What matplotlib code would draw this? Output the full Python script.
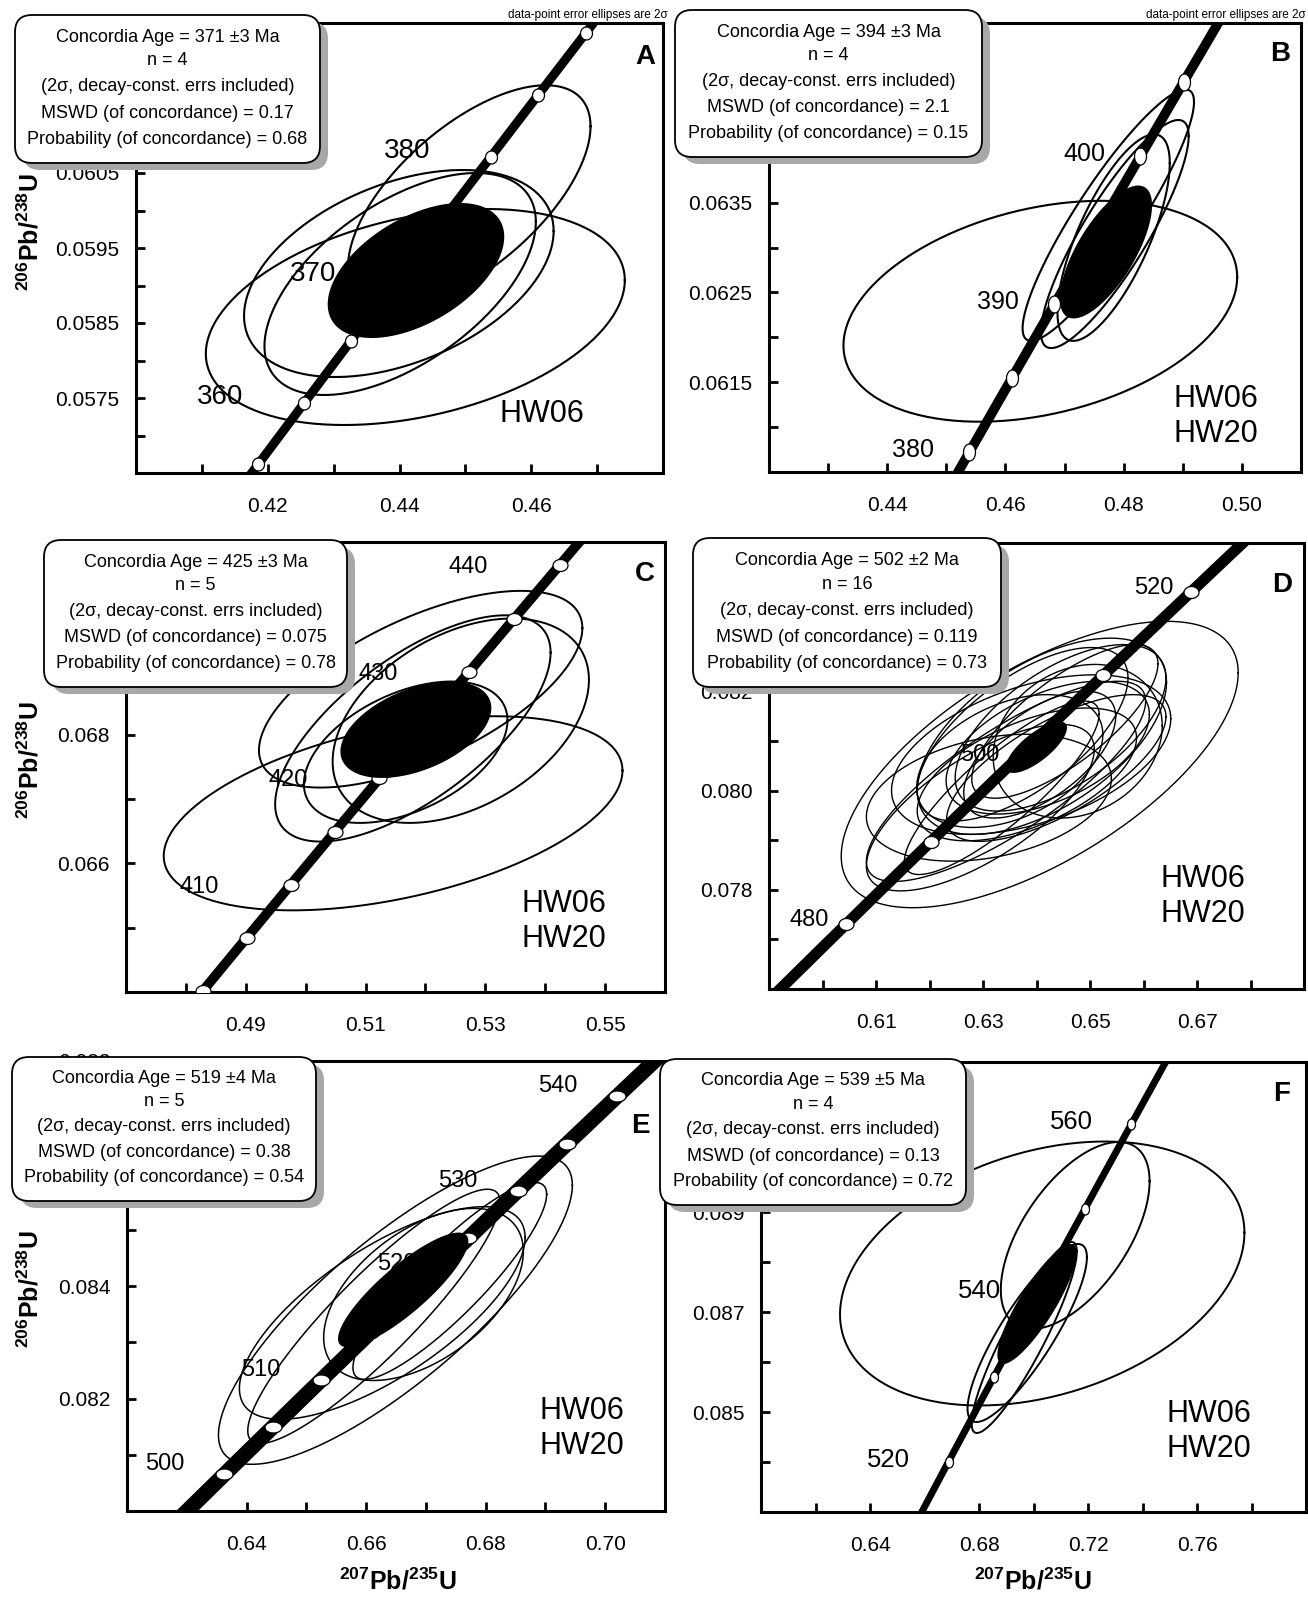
import numpy as np
import matplotlib
matplotlib.use("Agg")
import matplotlib.pyplot as plt
from matplotlib.patches import FancyBboxPatch
from matplotlib.path import Path
from matplotlib.ticker import FixedLocator, FixedFormatter, MultipleLocator

plt.rcParams['font.family'] = ['Liberation Sans', 'DejaVu Sans']
plt.rcParams['mathtext.fontset'] = 'custom'
plt.rcParams['mathtext.rm'] = 'Liberation Sans'
plt.rcParams['mathtext.bf'] = 'Liberation Sans:bold'

# decay constants (per Ma)
L238 = 1.55125e-4
L235 = 9.8485e-4

# ---------------- data ----------------
# ellipses: centre x, centre y, half-width, half-height (2 sigma), error correlation
A_cx = [0.4424, 0.4399, 0.4401, 0.4506]
A_cy = [0.05858, 0.05916, 0.05902, 0.06019]
A_sx = [0.0318, 0.0235, 0.0206, 0.0184]
A_sy = [0.00144, 0.00138, 0.00148, 0.00148]
A_rho = [0.34, 0.41, 0.56, 0.63]
A_mean = [0.4425, 0.0592, 0.0134, 0.0009, 0.50]
A_ages = [355, 360, 365, 370, 375, 380, 385, 390]
A_agelab = [360, 370, 380]
A_stats = ['371 ±3', '4', '0.17', '0.68']
A_samples = ['HW06']
A_xlim = [0.40, 0.48]
A_ylim = [0.0565, 0.0625]
A_xticks = [0.42, 0.44, 0.46]
A_xlabels = ['0.42', '0.44', '0.46']
A_yticks = [0.0575, 0.0585, 0.0595, 0.0605, 0.0615]
A_ylabels = ['0.0575', '0.0585', '0.0595', '0.0605', '']

B_cx = [0.4659, 0.4774, 0.4785, 0.4783]
B_cy = [0.06229, 0.06336, 0.06315, 0.06311]
B_sx = [0.0333, 0.0145, 0.0125, 0.0095]
B_sy = [0.00123, 0.00140, 0.00127, 0.00115]
B_rho = [0.31, 0.90, 0.86, 0.72]
B_mean = [0.4770, 0.06295, 0.0078, 0.00074, 0.70]
B_ages = [375, 380, 385, 390, 395, 400, 405, 410]
B_agelab = [380, 390, 400]
B_stats = ['394 ±3', '4', '2.1', '0.15']
B_samples = ['HW06', 'HW20']
B_xlim = [0.42, 0.51]
B_ylim = [0.0605, 0.0655]
B_xticks = [0.44, 0.46, 0.48, 0.50]
B_xlabels = ['0.44', '0.46', '0.48', '0.50']
B_yticks = [0.0615, 0.0625, 0.0635, 0.0645]
B_ylabels = ['0.0615', '0.0625', '0.0635', '']

C_cx = [0.5146, 0.5192, 0.5259, 0.5179, 0.5167]
C_cy = [0.06678, 0.06871, 0.06822, 0.06810, 0.06773]
C_sx = [0.0383, 0.0270, 0.0214, 0.0230, 0.0170]
C_sy = [0.00151, 0.00153, 0.00159, 0.00176, 0.00110]
C_rho = [0.44, 0.62, 0.40, 0.67, 0.45]
C_mean = [0.5184, 0.06808, 0.0126, 0.00075, 0.45]
C_ages = [400, 405, 410, 415, 420, 425, 430, 435, 440, 445]
C_agelab = [410, 420, 430, 440]
C_stats = ['425 ±3', '5', '0.075', '0.78']
C_samples = ['HW06', 'HW20']
C_xlim = [0.47, 0.56]
C_ylim = [0.064, 0.071]
C_xticks = [0.49, 0.51, 0.53, 0.55]
C_xlabels = ['0.49', '0.51', '0.53', '0.55']
C_yticks = [0.066, 0.068, 0.070]
C_ylabels = ['0.066', '0.068', '']

D_cx = [0.6406, 0.6410, 0.6390, 0.6295, 0.6343, 0.6445, 0.6421, 0.6382,
        0.6453, 0.6350, 0.6406, 0.6311, 0.6477, 0.6374, 0.6437, 0.6335]
D_cy = [0.08053, 0.08110, 0.08073, 0.07966, 0.08019, 0.08127, 0.08087, 0.08033,
        0.08140, 0.08060, 0.08073, 0.07986, 0.08100, 0.08114, 0.08046, 0.08006]
D_sx = [0.0371, 0.0233, 0.0261, 0.0213, 0.0261, 0.0197, 0.0190, 0.0205,
        0.0174, 0.0174, 0.0142, 0.0229, 0.0158, 0.0197, 0.0205, 0.0182]
D_sy = [0.00289, 0.00198, 0.00161, 0.00168, 0.00202, 0.00168, 0.00134, 0.00134,
        0.00155, 0.00134, 0.00128, 0.00128, 0.00155, 0.00175, 0.00148, 0.00175]
D_rho = [0.64, 0.55, 0.45, 0.70, 0.80, 0.60, 0.50, 0.55,
         0.75, 0.40, 0.60, 0.30, 0.20, 0.65, 0.70, 0.85]
D_mean = [0.6400, 0.08088, 0.0057, 0.00052, 0.75]
D_ages = [470, 480, 490, 500, 510, 520, 530]
D_agelab = [480, 500, 520]
D_stats = ['502 ±2', '16', '0.119', '0.73']
D_samples = ['HW06', 'HW20']
D_xlim = [0.59, 0.69]
D_ylim = [0.076, 0.085]
D_xticks = [0.61, 0.63, 0.65, 0.67]
D_xlabels = ['0.61', '0.63', '0.65', '0.67']
D_yticks = [0.078, 0.080, 0.082, 0.084]
D_ylabels = ['0.078', '0.080', '0.082', '']

E_cx = [0.6649, 0.6627, 0.6613, 0.6740, 0.6696]
E_cy = [0.08357, 0.08352, 0.08346, 0.08409, 0.08385]
E_sx = [0.0296, 0.0239, 0.0211, 0.0162, 0.0167]
E_sy = [0.00274, 0.00189, 0.00226, 0.00175, 0.00153]
E_rho = [0.81, 0.71, 0.90, 0.88, 0.50]
E_mean = [0.6662, 0.08393, 0.0109, 0.00102, 0.85]
E_ages = [495, 500, 505, 510, 515, 520, 525, 530, 535, 540, 545]
E_agelab = [500, 510, 520, 530, 540]
E_stats = ['519 ±4', '5', '0.38', '0.54']
E_samples = ['HW06', 'HW20']
E_xlim = [0.62, 0.71]
E_ylim = [0.080, 0.088]
E_xticks = [0.64, 0.66, 0.68, 0.70]
E_xlabels = ['0.64', '0.66', '0.68', '0.70']
E_yticks = [0.082, 0.084, 0.086, 0.088]
E_ylabels = ['0.082', '0.084', '', '0.088']

F_cx = [0.7032, 0.7153, 0.6977, 0.6966]
F_cy = [0.08777, 0.08853, 0.08658, 0.08649]
F_sx = [0.0742, 0.0273, 0.0219, 0.0193]
F_sy = [0.00264, 0.00187, 0.00178, 0.00191]
F_rho = [0.31, 0.58, 0.85, 0.90]
F_mean = [0.7013, 0.08716, 0.01455, 0.0012, 0.85]
F_ages = [510, 520, 530, 540, 550, 560, 570]
F_agelab = [520, 540, 560]
F_stats = ['539 ±5', '4', '0.13', '0.72']
F_samples = ['HW06', 'HW20']
F_xlim = [0.60, 0.80]
F_ylim = [0.083, 0.092]
F_xticks = [0.64, 0.68, 0.72, 0.76]
F_xlabels = ['0.64', '0.68', '0.72', '0.76']
F_yticks = [0.085, 0.087, 0.089, 0.091]
F_ylabels = ['0.085', '0.087', '0.089', '']

# ---------------- layout (pixels, origin top-left) ----------------
W, H = 1308, 1602
fig = plt.figure(figsize=(W / 100, H / 100), dpi=100)
fig.patch.set_facecolor('white')

panels = [
    dict(letter='A', d=(A_cx, A_cy, A_sx, A_sy, A_rho, A_mean, A_ages, A_agelab, A_stats, A_samples,
                        A_xlim, A_ylim, A_xticks, A_xlabels, A_yticks, A_ylabels),
         rect=(136, 23, 663, 473), box=(15, 15, 320, 163), let=(645, 57), samp=(542, 414),
         xminor=0.01, yminor=0.0005, lw=1.5, clw=6.5, mk=(12, 13), off=(-84, 6), afs=20),
    dict(letter='B', d=(B_cx, B_cy, B_sx, B_sy, B_rho, B_mean, B_ages, B_agelab, B_stats, B_samples,
                        B_xlim, B_ylim, B_xticks, B_xlabels, B_yticks, B_ylabels),
         rect=(769, 23, 1301, 472), box=(675, 10, 982, 157), let=(1280, 54), samp=(1216, 399),
         xminor=0.01, yminor=0.0005, lw=1.5, clw=7, mk=(12, 17), off=(-56, 2), afs=18),
    dict(letter='C', d=(C_cx, C_cy, C_sx, C_sy, C_rho, C_mean, C_ages, C_agelab, C_stats, C_samples,
                        C_xlim, C_ylim, C_xticks, C_xlabels, C_yticks, C_ylabels),
         rect=(126, 542, 665, 992), box=(44, 540, 347, 687), let=(645, 574), samp=(564, 904),
         xminor=0.01, yminor=0.001, lw=1.4, clw=7, mk=(15, 12), off=(-91, -2), afs=17),
    dict(letter='D', d=(D_cx, D_cy, D_sx, D_sy, D_rho, D_mean, D_ages, D_agelab, D_stats, D_samples,
                        D_xlim, D_ylim, D_xticks, D_xlabels, D_yticks, D_ylabels),
         rect=(769, 543, 1304, 989), box=(693, 538, 1001, 687), let=(1282, 585), samp=(1203, 879),
         xminor=0.01, yminor=0.001, lw=1.0, clw=8, mk=(15, 12), off=(-37, 4), afs=17),
    dict(letter='E', d=(E_cx, E_cy, E_sx, E_sy, E_rho, E_mean, E_ages, E_agelab, E_stats, E_samples,
                        E_xlim, E_ylim, E_xticks, E_xlabels, E_yticks, E_ylabels),
         rect=(127, 1061, 665, 1511), box=(12, 1057, 316, 1201), let=(640, 1126), samp=(582, 1411),
         xminor=0.01, yminor=0.001, lw=1.1, clw=11, mk=(17, 11), off=(-60, 10), afs=17,
         special={520: (-22, 22)}),
    dict(letter='F', d=(F_cx, F_cy, F_sx, F_sy, F_rho, F_mean, F_ages, F_agelab, F_stats, F_samples,
                        F_xlim, F_ylim, F_xticks, F_xlabels, F_yticks, F_ylabels),
         rect=(761, 1062, 1306, 1512), box=(660, 1059, 966, 1205), let=(1282, 1094), samp=(1209, 1414),
         xminor=0.02, yminor=0.001, lw=1.4, clw=5, mk=(8, 11), off=(-60, 2), afs=18.5),
]


def fx(x):
    return x / W


def fy(y):
    return 1 - y / H


def oval(w, h):
    t = np.linspace(0, 2 * np.pi, 41)
    return Path(np.column_stack([w * np.cos(t), h * np.sin(t)]), closed=True)


def ellipse(cx, cy, sx, sy, rho, n=240):
    t = np.linspace(0, 2 * np.pi, n)
    return cx + sx * np.cos(t), cy + sy * (rho * np.cos(t) + np.sqrt(1 - rho ** 2) * np.sin(t))


def conc(t):
    t = np.asarray(t, dtype=float)
    return np.exp(L235 * t) - 1, np.exp(L238 * t) - 1


for p in panels:
    (cx, cy, sx, sy, rho, mean, ages, agelab, stats, samples,
     xlim, ylim, xticks, xlabels, yticks, ylabels) = p['d']
    l, t, r, b = p['rect']
    ax = fig.add_axes([fx(l), fy(b), (r - l) / W, (b - t) / H])
    ax.set_xlim(xlim)
    ax.set_ylim(ylim)

    # data-point ellipses
    for i in range(len(cx)):
        ex, ey = ellipse(cx[i], cy[i], sx[i], sy[i], rho[i])
        ax.plot(ex, ey, color='k', lw=p['lw'], zorder=2)

    # concordia curve and age markers
    tt = np.linspace(300, 700, 3000)
    kx, ky = conc(tt)
    ax.plot(kx, ky, color='k', lw=p['clw'], solid_capstyle='butt', zorder=3)
    mx, my = conc(ages)
    mw, mh = p['mk']
    ax.plot(mx, my, ls='none', marker=oval(mw, mh), ms=max(mw, mh) * 0.72,
            mfc='white', mec='k', mew=0.9, zorder=4)

    # concordia age ellipse
    ex, ey = ellipse(*mean)
    ax.fill(ex, ey, color='k', lw=0, zorder=5)

    # age labels sit underneath the ellipses
    lx, ly = conc(agelab)
    special = p.get('special', {})
    for a, xa, ya in zip(agelab, lx, ly):
        ax.annotate(str(a), (xa, ya), xytext=special.get(a, p['off']), textcoords='offset pixels',
                    ha='center', va='center', fontsize=p['afs'], zorder=1.5)

    # axes styling
    for s in ax.spines.values():
        s.set_linewidth(2.2)
    ax.xaxis.set_major_locator(FixedLocator(xticks))
    ax.yaxis.set_major_locator(FixedLocator(yticks))
    ax.xaxis.set_major_formatter(FixedFormatter(xlabels))
    ax.yaxis.set_major_formatter(FixedFormatter(ylabels))
    ax.xaxis.set_minor_locator(MultipleLocator(p['xminor']))
    ax.yaxis.set_minor_locator(MultipleLocator(p['yminor']))
    ax.tick_params(which='both', direction='in', width=2, length=6.5, labelsize=15)
    ax.tick_params(axis='x', which='major', pad=17)
    ax.tick_params(axis='y', which='major', pad=12)

    # panel letter, sample names
    fig.text(fx(p['let'][0]), fy(p['let'][1]), p['letter'], ha='center', va='center',
             fontsize=20, fontweight='bold', zorder=12)
    sxp, syp = p['samp']
    for k, sname in enumerate(samples):
        fig.text(fx(sxp), fy(syp + 35 * k), sname, ha='center', va='center', fontsize=22, zorder=12)

    # statistics box with shadow
    bl, bt, br, bb = p['box']
    w_in, h_in = (br - bl) / 100, (bb - bt) / 100
    shadow = FancyBboxPatch((bl / 100 + 0.08, (H - bb) / 100 - 0.07), w_in, h_in,
                            boxstyle='round,pad=0,rounding_size=0.17', transform=fig.dpi_scale_trans,
                            fc='#a8a8a8', ec='none', zorder=10)
    box = FancyBboxPatch((bl / 100, (H - bb) / 100), w_in, h_in,
                         boxstyle='round,pad=0,rounding_size=0.17', transform=fig.dpi_scale_trans,
                         fc='white', ec='black', lw=1.3, zorder=11)
    fig.patches.extend([shadow, box])
    lines = ['Concordia Age = %s Ma' % stats[0],
             'n = %s' % stats[1],
             '(2\u03c3, decay-const. errs included)',
             'MSWD (of concordance) = %s' % stats[2],
             'Probability (of concordance) = %s' % stats[3]]
    for f, s in zip([0.15, 0.31, 0.485, 0.665, 0.84], lines):
        fig.text(fx((bl + br) / 2), fy(bt + f * (bb - bt)), s, ha='center', va='center',
                 fontsize=13, zorder=12)

# small notes above the top panels
for xr in (668, 1306):
    fig.text(fx(xr), fy(21), 'data-point error ellipses are 2\u03c3', ha='right', va='bottom',
             fontsize=8.5, zorder=12)

# axis titles
ylab = r'$\mathbf{^{206}Pb/^{238}U}$'
xlab = r'$\mathbf{^{207}Pb/^{235}U}$'
for yc in (232, 760, 1289):
    fig.text(fx(30), fy(yc), ylab, rotation=90, ha='center', va='center', fontsize=18, zorder=12)
for xc in (398, 1033):
    fig.text(fx(xc), fy(1581), xlab, ha='center', va='center', fontsize=18, zorder=12)

fig.savefig('out.png', dpi=100)
